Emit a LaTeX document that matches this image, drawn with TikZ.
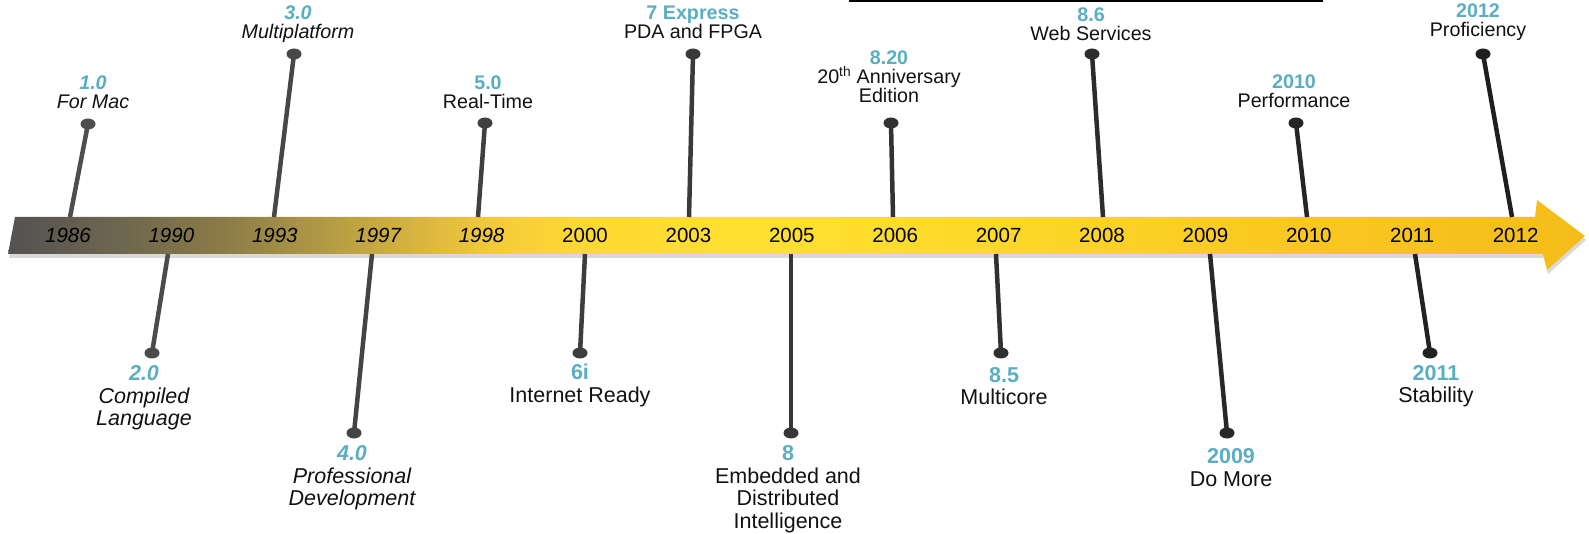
\documentclass[tikz,border=0pt]{standalone}
\usepackage{fontspec}
\setmainfont{Liberation Sans}
\usetikzlibrary{shapes.geometric,shadows}
\definecolor{verblue}{HTML}{5AAEC1}
\definecolor{stemL}{HTML}{505050}
\definecolor{stemR}{HTML}{1C1C1C}
\definecolor{txtc}{HTML}{111111}
\pgfdeclarehorizontalshading{bandshade}{100bp}{rgb(0bp)=(.33,.32,.32); rgb(25bp)=(.33,.32,.32);
  rgb(28.5bp)=(.43,.40,.31); rgb(31.7bp)=(.54,.48,.28); rgb(34.9bp)=(.69,.60,.27);
  rgb(38bp)=(.85,.71,.25); rgb(40.6bp)=(.96,.80,.22); rgb(43.1bp)=(1,.85,.20);
  rgb(48.5bp)=(1,.88,.19); rgb(56.4bp)=(.99,.85,.16); rgb(66bp)=(.98,.78,.13);
  rgb(75bp)=(.96,.74,.10); rgb(100bp)=(.96,.74,.10)}
\newcommand\Ver[1]{{\color{verblue}\bfseries #1}}
\tikzset{
  year/.style={font=\fontsize{20.5}{24}\selectfont, text=black, inner sep=0pt},
  lbl/.style={align=center, text=txtc, inner sep=0pt},
  upr/.style={lbl, font=\fontsize{19.7}{19}\selectfont},
  upri/.style={lbl, font=\fontsize{19.7}{19}\selectfont\itshape},
  lwr/.style={lbl, font=\fontsize{21.5}{22.5}\selectfont},
  lwri/.style={lbl, font=\fontsize{21.5}{22.5}\selectfont\itshape},
  dot/.style={ellipse, minimum width=15pt, minimum height=11pt, inner sep=0pt},
  stem/.style={line width=4.5pt}
}
\begin{document}
\begin{tikzpicture}[x=1pt,y=-1pt]
\useasboundingbox (0,0) rectangle (1589,534);
\fill[black] (849,0) rectangle (1323,2);
% the time band
\path[shading=bandshade, drop shadow={shadow xshift=1pt, shadow yshift=-4pt, opacity=.3}]
  (15,217) -- (1535,217) -- (1537,200) -- (1585,236) -- (1547,270) -- (1543,254) -- (8,254) -- cycle;
\foreach \yr [count=\i from 0] in {1986,1990,1993,1997,1998,2000,2003,2005,2006,2007,2008,2009,2010,2011,2012}
  \node[year] (y\yr) at (68+103.4*\i,235) {\ifnum\i<5 \itshape\fi\yr};
% stems and dots
\foreach \n/\bx/\by/\dx/\dy in {1986/70/217/88/124, 1990/168/254/152/353, 1993/274/217/294/54,
    1997/372/254/354/433, 1998/478/217/485/123, 2000/585/254/580/353, 2003/689/217/693/54,
    2005/791/254/791/433, 2006/893/217/891/123, 2007/996/254/1001/353, 2008/1103/217/1092/54,
    2009/1210/254/1227/433, 2010/1307/217/1296/123, 2011/1415/254/1430/353, 2012/1512/217/1483/54}{
  \pgfmathtruncatemacro\pc{\bx/15.89}
  \colorlet{stemc}{stemR!\pc!stemL}
  \coordinate (b\n) at (\bx,\by);
  \node[dot, fill=stemc] (d\n) at (\dx,\dy) {};
  \draw[stem, draw=stemc] (b\n) -- (d\n.center);
}
% labels
\node[upri] (v10) at (93,92.5) {\Ver{1.0}\\For Mac};
\node[lwri] (v20) at (144,398) {\Ver{2.0}\\Compiled\\Language};
\node[upri] (v30) at (298,24) {\Ver{3.0}\\Multiplatform};
\node[lwri] (v40) at (352,478) {\Ver{4.0}\\Professional\\Development};
\node[upr] (v50) at (488,92.5) {\Ver{5.0}\\Real-Time};
\node[lwr] (v6i) at (580,385.5) {\Ver{6i}\\Internet Ready};
\node[upr] (v7) at (693,22.5) {\Ver{7 Express}\\PDA and FPGA};
\node[lwr] (v8) at (788,489) {\Ver{8}\\Embedded and\\Distributed\\Intelligence};
\node[upr] (v820) at (889,77) {\Ver{8.20}\\20\textsuperscript{th} Anniversary\\Edition};
\node[lwr] (v85) at (1004,386) {\Ver{8.5}\\Multicore};
\node[upr] (v86) at (1091,24) {\Ver{8.6}\\Web Services};
\node[lwr] (v2009) at (1231,467.5) {\Ver{2009}\\Do More};
\node[upr] (v2010) at (1294,91.5) {\Ver{2010}\\Performance};
\node[lwr] (v2011) at (1436,386) {\Ver{2011}\\Stability};
\node[upr] (v2012) at (1478,22.5) {\Ver{2012}\\Proficiency};
\end{tikzpicture}
\end{document}
